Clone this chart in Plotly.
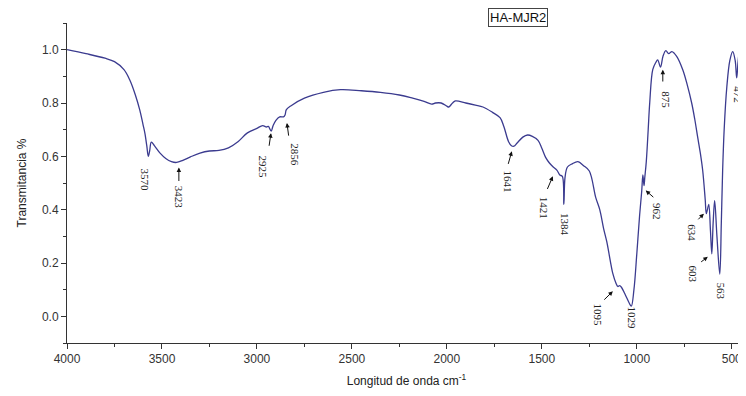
import plotly.graph_objects as go

# Spectrum (wavenumber cm-1, transmittance)
wavenumber = [4000, 3900, 3800, 3750, 3700, 3670, 3640, 3617, 3600, 3590, 3580, 3572, 3565, 3556,
              3540, 3510, 3480, 3450, 3423, 3390, 3350, 3300, 3250, 3200, 3150, 3100, 3050, 3000,
              2970, 2950, 2940, 2925, 2915, 2900, 2880, 2860, 2852, 2845, 2820, 2750, 2650, 2560,
              2450, 2350, 2250, 2180, 2120, 2080, 2060, 2030, 2000, 1990, 1970, 1955, 1900, 1850,
              1810, 1760, 1720, 1700, 1675, 1660, 1647, 1630, 1600, 1575, 1550, 1520, 1500, 1480,
              1460, 1440, 1421, 1405, 1392, 1384, 1378, 1365, 1340, 1310, 1280, 1250, 1216, 1195,
              1175, 1158, 1140, 1126, 1110, 1100, 1090, 1082, 1060, 1040, 1029, 1015, 1000, 985,
              974, 968, 962, 958, 950, 940, 932, 916, 900, 890, 875, 862, 847, 832, 815, 790, 758,
              735, 711, 695, 679, 665, 653, 640, 634, 628, 621, 612, 605, 598, 590, 578, 563, 555,
              548, 540, 526, 510, 495, 482, 474, 466, 458, 445, 432, 425]
transmittance = [1.000, 0.985, 0.968, 0.955, 0.925, 0.887, 0.830, 0.774, 0.720, 0.687, 0.640, 0.600, 0.620, 0.653,
                 0.640, 0.612, 0.592, 0.580, 0.577, 0.585, 0.598, 0.612, 0.620, 0.622, 0.632, 0.655, 0.688, 0.705,
                 0.715, 0.710, 0.712, 0.695, 0.715, 0.735, 0.748, 0.748, 0.755, 0.775, 0.790, 0.818, 0.840, 0.850,
                 0.846, 0.840, 0.830, 0.818, 0.806, 0.796, 0.800, 0.800, 0.788, 0.785, 0.800, 0.808, 0.800, 0.792,
                 0.785, 0.765, 0.745, 0.712, 0.655, 0.640, 0.638, 0.650, 0.672, 0.680, 0.675, 0.660, 0.630, 0.596,
                 0.575, 0.560, 0.548, 0.530, 0.525, 0.420, 0.520, 0.560, 0.572, 0.580, 0.565, 0.545, 0.445, 0.400,
                 0.330, 0.280, 0.210, 0.160, 0.125, 0.112, 0.115, 0.110, 0.080, 0.050, 0.038, 0.100, 0.234, 0.380,
                 0.470, 0.530, 0.490, 0.520, 0.580, 0.700, 0.800, 0.925, 0.952, 0.962, 0.935, 0.975, 0.996, 0.985, 0.993, 0.975, 0.925,
                 0.870, 0.800, 0.740, 0.670, 0.610, 0.547, 0.440, 0.385, 0.400, 0.420, 0.320, 0.234, 0.350, 0.434, 0.300, 0.158, 0.350,
                 0.547, 0.700, 0.860, 0.960, 0.993, 0.960, 0.894, 0.960, 0.993, 0.975, 0.950, 0.930]

# Peak labels
peak_labels = ["3570", "3423", "2925", "2856", "1641", "1421", "1384", "1095",
               "1029", "962", "875", "472", "634", "603", "563"]

# Label placement (layout): label centre (x, y), optional arrow tail -> head
label_pos = {
    "3570": (3589, 0.513), "3423": (3411, 0.445), "2925": (2968, 0.562), "2856": (2800, 0.604),
    "1641": (1679, 0.506), "1421": (1484, 0.408), "1384": (1379, 0.343), "1095": (1205, 0.004),
    "1029": (1026, -0.008), "962": (895, 0.392), "875": (847, 0.811), "472": (468, 0.83),
    "634": (711, 0.313), "603": (705, 0.158), "563": (558, 0.094),
}
arrow_pos = {
    "3423": ((3411, 0.502), (3411, 0.558)),
    "2925": ((2937, 0.634), (2926, 0.687)),
    "2856": ((2832, 0.672), (2842, 0.725)),
    "1641": ((1679, 0.566), (1658, 0.619)),
    "1421": ((1474, 0.472), (1442, 0.525)),
    "1095": ((1179, 0.057), (1126, 0.094)),
    "962": ((905, 0.442), (953, 0.472)),
    "875": ((863, 0.875), (863, 0.925)),
    "634": ((684, 0.358), (647, 0.385)),
    "603": ((669, 0.200), (626, 0.223)),
}

fig = go.Figure()
fig.add_trace(go.Scatter(x=wavenumber, y=transmittance, mode="lines",
                         line=dict(color="#3b3b8f", width=1.3), showlegend=False,
                         line_shape="spline"))

annotations = []
for lab in peak_labels:
    x, y = label_pos[lab]
    annotations.append(dict(x=x, y=y, xref="x", yref="y", text=lab, showarrow=False,
                            textangle=90, font=dict(family="Liberation Serif", size=11, color="#222")))
for lab, (tail, head) in arrow_pos.items():
    annotations.append(dict(x=head[0], y=head[1], ax=tail[0], ay=tail[1], xref="x", yref="y",
                            axref="x", ayref="y", text="", showarrow=True, arrowhead=2,
                            arrowsize=0.9, arrowwidth=1, arrowcolor="#111", standoff=0))
annotations.append(dict(x=0.664, y=1.018, xref="paper", yref="paper", text="HA-MJR2",
                        xanchor="center", yanchor="middle",
                        showarrow=False, font=dict(family="Liberation Sans", size=13, color="#111"),
                        bordercolor="#444", borderwidth=1, borderpad=1, bgcolor="white"))

axis_font = dict(family="Liberation Sans", size=12, color="#333")
fig.update_layout(
    width=738, height=380,
    margin=dict(l=59, r=0, t=15, b=45),
    paper_bgcolor="white", plot_bgcolor="white",
    annotations=annotations,
    xaxis=dict(range=[4000, 425], dtick=500, tick0=0, ticks="outside", ticklen=5, tickcolor="#333",
               showline=True, linecolor="#333", linewidth=1, showgrid=False, zeroline=False,
               tickfont=axis_font, minor=dict(dtick=250, ticks="outside", ticklen=3, tickcolor="#333"),
               title=dict(text="Longitud de onda cm<sup>-1</sup>", font=dict(family="Liberation Sans", size=12, color="#222"),
                          standoff=12)),
    yaxis=dict(range=[-0.1, 1.1], dtick=0.2, tick0=0, tickformat=".1f", ticks="outside", ticklen=5,
               tickcolor="#333", showline=True, linecolor="#333", linewidth=1, showgrid=False,
               zeroline=False, tickfont=axis_font,
               minor=dict(dtick=0.1, ticks="outside", ticklen=3, tickcolor="#333"),
               title=dict(text="Transmitancia %", font=dict(family="Liberation Sans", size=12, color="#222"),
                          standoff=12)),
)

fig.write_html("out.html")
